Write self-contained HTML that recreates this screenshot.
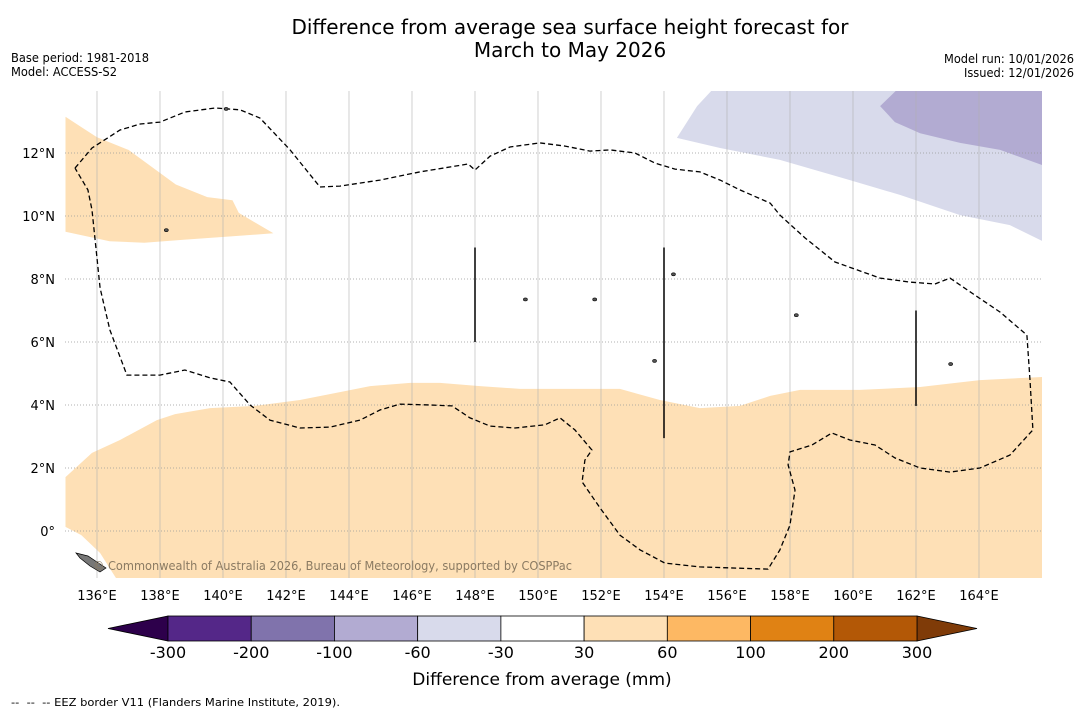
<!DOCTYPE html>
<html><head><meta charset="utf-8"><style>
body{margin:0;background:#fff;font-family:"Liberation Sans","DejaVu Sans",sans-serif;}
svg text{font-family:"DejaVu Sans","Liberation Sans",sans-serif;}
</style></head><body>
<svg id="chart" width="1085" height="713" viewBox="0 0 1085 713" xmlns="http://www.w3.org/2000/svg">
<rect width="1085" height="713" fill="#fff"/>
<text x="570" y="34" font-size="20" text-anchor="middle">Difference from average sea surface height forecast for</text>
<text x="570" y="57" font-size="20" text-anchor="middle">March to May 2026</text>
<text x="11" y="62" font-size="12" textLength="138" lengthAdjust="spacingAndGlyphs">Base period: 1981-2018</text>
<text x="11" y="76" font-size="12" textLength="106" lengthAdjust="spacingAndGlyphs">Model: ACCESS-S2</text>
<text x="944" y="63" font-size="12" textLength="130" lengthAdjust="spacingAndGlyphs">Model run: 10/01/2026</text>
<text x="964" y="77" font-size="12" textLength="110" lengthAdjust="spacingAndGlyphs">Issued: 12/01/2026</text>
<defs><clipPath id="mapclip"><rect x="65" y="91" width="977" height="487"/></clipPath></defs>
<g id="map" clip-path="url(#mapclip)"></g>
<g id="axes"></g>
<g id="cbar"></g>
<text x="542" y="685" font-size="17" text-anchor="middle">Difference from average (mm)</text>
<text x="11" y="706" font-size="11" xml:space="preserve" textLength="329" lengthAdjust="spacingAndGlyphs" style="white-space:pre">--  --  -- EEZ border V11 (Flanders Marine Institute, 2019).</text>
</svg>
<script>
const lonTicks=[136,138,140,142,144,146,148,150,152,154,156,158,160,162,164];
const latTicks=[0,2,4,6,8,10,12];
const cbBounds=[-300,-200,-100,-60,-30,30,60,100,200,300];
const cbColors=["#542788","#8073ac","#b2abd2","#d8daeb","#ffffff","#fee0b6","#fdb863","#e08214","#b35806"];
const cbUnder="#2d004b", cbOver="#7f3b08";
const orangeNW=[[135,13.15],[136,12.5],[137,12.1],[138.5,11.0],[139.5,10.6],[140.3,10.5],[140.5,10.1],[141.6,9.45],[140.2,9.35],[138.8,9.25],[137.5,9.15],[136.4,9.2],[135,9.5]];
const orangeSouth=[[135,1.71],[135.84,2.48],[136.73,2.89],[137.9,3.52],[138.48,3.71],[139.59,3.9],[141.02,3.97],[142.44,4.16],[143.71,4.41],[144.67,4.6],[145.94,4.7],[146.89,4.7],[148.16,4.6],[149.43,4.51],[152.6,4.51],[153.87,4.16],[155.14,3.9],[156.41,3.97],[157.37,4.29],[158.32,4.48],[160.22,4.48],[162.13,4.57],[164.03,4.79],[166,4.89],[166,-1.6],[136.67,-1.6],[136.1,-0.7],[135.5,-0.13],[135,0.13]];
const purpleLight=[[154.41,12.48],[155.05,13.49],[155.62,14.1],[166,14.1],[166,9.21],[164.98,9.71],[163.4,10.03],[161.49,10.67],[159.9,11.14],[157.68,11.78],[155.78,12.16]];
const purpleMid=[[160.86,13.49],[161.49,14.1],[166,14.1],[166,11.62],[164.67,12.1],[163.4,12.32],[162.13,12.63],[161.33,12.98]];
const eezLon=[135.3,135.84,136.73,137.37,138.0,138.79,139.75,140.54,141.17,142.13,143.08,143.71,144.98,146.25,147.78,148.0,148.48,149.11,150.06,150.86,151.65,152.29,153.08,153.71,154.35,155.14,155.78,156.41,157.37,157.68,158.48,159.43,160.86,161.81,162.6,163.08,163.87,164.67,165.52,165.62,165.71,164.98,164.03,163.08,162.13,161.33,160.7,159.9,159.33,158.7,158.0,157.94,158.16,158.0,157.68,157.3,156.1,155.14,154.03,153.24,152.6,151.97,151.4,151.49,151.71,151.17,150.7,150.22,149.27,148.48,147.84,147.27,146.57,145.62,144.98,144.35,143.4,142.44,141.49,140.86,140.22,139.59,138.79,138.0,136.95,136.41,136.1,135.94,135.84,135.71,135.3];
const eezLat=[11.52,12.16,12.73,12.92,12.98,13.3,13.43,13.37,13.11,12.1,10.92,10.95,11.14,11.4,11.65,11.46,11.9,12.19,12.32,12.22,12.06,12.1,12.0,11.68,11.49,11.4,11.14,10.83,10.41,10.03,9.3,8.54,8.03,7.9,7.84,8.03,7.49,6.95,6.22,4.79,3.21,2.41,2.0,1.87,2.0,2.32,2.73,2.89,3.11,2.73,2.51,2.1,1.3,0.19,-0.6,-1.21,-1.17,-1.14,-1.02,-0.6,-0.13,0.73,1.56,2.25,2.57,3.21,3.59,3.37,3.27,3.33,3.59,3.97,4.0,4.03,3.84,3.52,3.3,3.27,3.52,4.0,4.73,4.86,5.11,4.95,4.95,6.38,7.71,9.24,10.19,10.83,11.52];
const segLon=[148,154,162];
const segLat0=[9,9,7];
const segLat1=[6,2.95,3.97];
const islands=[[153.7,5.4],[158.2,6.85],[149.6,7.35],[151.8,7.35],[163.1,5.3],[138.2,9.55],[140.1,13.4],[154.3,8.15]];

const NS="http://www.w3.org/2000/svg";
const X=lon=>97+(lon-136)*31.5;
const Y=lat=>531-lat*31.5;
function mk(tag,attrs,parent){const e=document.createElementNS(NS,tag);for(const k in attrs)e.setAttribute(k,attrs[k]);parent.appendChild(e);return e;}
const map=document.getElementById('map'),axes=document.getElementById('axes'),cb=document.getElementById('cbar');
function poly(pts,fill,name){const p=mk('polygon',{points:pts.map(q=>X(q[0]).toFixed(1)+','+Y(q[1]).toFixed(1)).join(' '),fill:fill},map);

}
poly(orangeNW,cbColors[5],'anomaly-region-nw');
poly(orangeSouth,cbColors[5],'anomaly-region-south');
poly(purpleLight,cbColors[3],'anomaly-region-ne-light');
poly(purpleMid,cbColors[2],'anomaly-region-ne-mid');
lonTicks.forEach(l=>{const g=mk('line',{x1:X(l),x2:X(l),y1:91,y2:578,stroke:'#b0b0b0','stroke-width':0.6},map);


const t=mk('text',{x:X(l),y:600,'font-size':13,'text-anchor':'middle'},axes);t.textContent=l+'°E';

});
latTicks.forEach(l=>{const g=mk('line',{x1:65,x2:1042,y1:Y(l),y2:Y(l),stroke:'#999','stroke-width':0.7,'stroke-dasharray':'1,2'},map);


const t=mk('text',{x:55,y:Y(l)+5,'font-size':13,'text-anchor':'end'},axes);t.textContent=l===0?'0°':l+'°N';

});
const eez=mk('polyline',{points:eezLon.map((l,i)=>X(l).toFixed(1)+','+Y(eezLat[i]).toFixed(1)).join(' '),fill:'none',stroke:'#000','stroke-width':1.3,'stroke-dasharray':'5,3'},map);


segLon.forEach((l,i)=>{const s=mk('line',{x1:X(l),x2:X(l),y1:Y(segLat0[i]),y2:Y(segLat1[i]),stroke:'#000','stroke-width':1.5},map);

});
islands.forEach(p=>{const c=mk('ellipse',{cx:X(p[0]),cy:Y(p[1]),rx:2,ry:1.5,fill:'#555',stroke:'#000','stroke-width':0.6},map);

});
const png=mk('polygon',{points:'76,553 88,556 97,562 106,568 100,572 90,566 80,558',fill:'#777',stroke:'#000','stroke-width':0.7},map);


const wm=mk('text',{x:93,y:570,'font-size':12,fill:'#8a7a62',textLength:479,lengthAdjust:'spacingAndGlyphs'},map);wm.textContent='© Commonwealth of Australia 2026, Bureau of Meteorology, supported by COSPPac';


const cx0=168,cx1=917,cy=616,ch=25,n=cbColors.length,w=(cx1-cx0)/n;
const CX=v=>{let i=cbBounds.findIndex((b,j)=>v>=b&&v<=cbBounds[j+1]);if(i<0)i=n-1;return cx0+w*(i+(v-cbBounds[i])/(cbBounds[i+1]-cbBounds[i]));};
const tu=mk('polygon',{points:`108,${cy+ch/2} ${cx0},${cy} ${cx0},${cy+ch}`,fill:cbUnder,stroke:'#000','stroke-width':0.8},cb);


const to=mk('polygon',{points:`977,${cy+ch/2} ${cx1},${cy} ${cx1},${cy+ch}`,fill:cbOver,stroke:'#000','stroke-width':0.8},cb);


cbColors.forEach((c,i)=>{const r=mk('rect',{x:CX(cbBounds[i]),y:cy,width:CX(cbBounds[i+1])-CX(cbBounds[i]),height:ch,fill:c,stroke:'#000','stroke-width':0.8},cb);

});
cbBounds.forEach(b=>{const t=mk('text',{x:CX(b),y:658,'font-size':16,'text-anchor':'middle'},cb);t.textContent=b;

});
</script>
</body></html>
